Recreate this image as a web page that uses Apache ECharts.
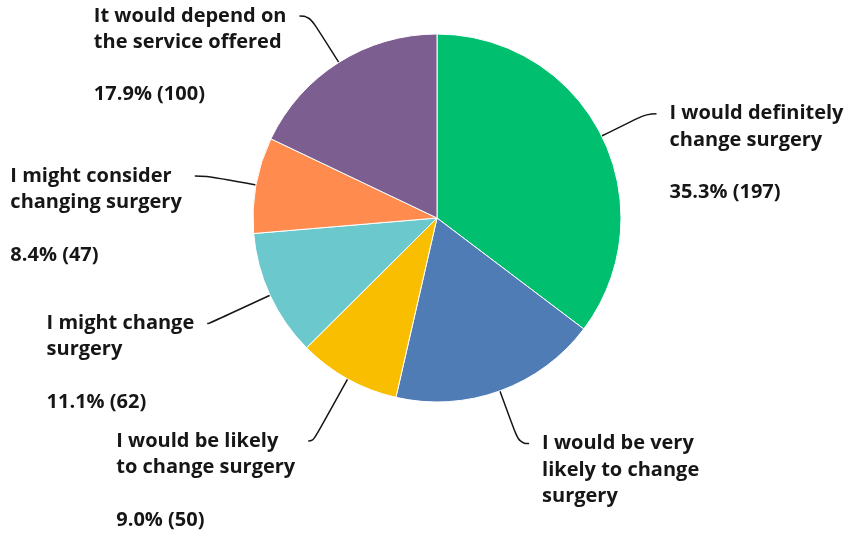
<!DOCTYPE html>
<html><head><meta charset="utf-8">
<script src="https://cdn.jsdelivr.net/npm/echarts@6/dist/echarts.min.js"></script>
<style>html,body{margin:0;padding:0;background:#fff}#c{width:853px;height:539px}</style>
</head><body><div id="c"></div>
<script>
const categories = [
  "I would definitely change surgery",
  "I would be very likely to change surgery",
  "I would be likely to change surgery",
  "I might change surgery",
  "I might consider changing surgery",
  "It would depend on the service offered"
];
const counts = [197, 102, 50, 62, 47, 100];
const percents = [35.3, 18.3, 9.0, 11.1, 8.4, 17.9];
const colors = ["#00BF6F", "#507CB6", "#F9BE00", "#6BC8CD", "#FF8B4F", "#7D5E90"];
// leader line lengths (style only)
const leadLen = [50, 56, 71, 67, 50, 55];
const leadLen2 = [10, 10, 5, 2, 12, 10];

function wrap(s, max) {
  const words = s.split(" ");
  const lines = [];
  let cur = "";
  for (const w of words) {
    if (cur === "") cur = w;
    else if ((cur + " " + w).length <= max) cur += " " + w;
    else { lines.push(cur); cur = w; }
  }
  if (cur) lines.push(cur);
  return lines.join("\n");
}

const LH = 26.3;
const chart = echarts.init(document.getElementById("c"), null, {renderer: "canvas"});
chart.setOption({
  animation: false,
  series: [{
    type: "pie",
    center: [437, 218],
    radius: 184,
    startAngle: 90,
    clockwise: true,
    avoidLabelOverlap: false,
    data: categories.map((n, i) => ({
      name: n, value: counts[i], itemStyle: {color: colors[i]},
      labelLine: {length: leadLen[i], length2: leadLen2[i]}
    })),
    itemStyle: {borderColor: "#fff", borderWidth: 1},
    label: {
      show: true,
      position: "outside",
      formatter: p => wrap(p.name, 19) + "\n\n" + percents[p.dataIndex].toFixed(1) + "% (" + p.value + ")",
      fontFamily: "Open Sans",
      fontWeight: 700,
      fontSize: 20,
      lineHeight: LH,
      color: "#161616",
      distanceToLabelLine: 13
    },
    labelLine: {show: true, length: 50, length2: 10, smooth: 0.5, lineStyle: {color: "#161616", width: 1.5}},
    labelLayout: function (p) {
      const pts = p.labelLinePoints;
      const end = pts[pts.length - 1];
      return {x: p.labelRect.x, y: end[1] - LH / 2, align: "left", verticalAlign: "top", labelLinePoints: pts};
    }
  }]
});
</script>
</body></html>
